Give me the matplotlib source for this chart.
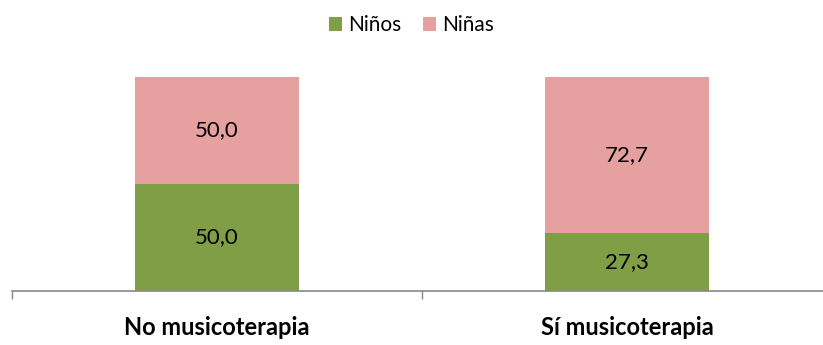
import matplotlib
matplotlib.use("Agg")
import matplotlib.pyplot as plt
import numpy as np

categories = ["No musicoterapia", "Sí musicoterapia"]
ninos = [50.0, 27.3]
ninas = [50.0, 72.7]
series_names = ["Niños", "Niñas"]
colors = ["#809E46", "#E6A09F"]

plt.rcParams["font.family"] = ["Lato", "DejaVu Sans"]

fig = plt.figure(figsize=(8.23, 3.45), dpi=100)
ax = fig.add_axes([12 / 823, 54 / 345, 820 / 823, 214 / 345])

x = np.arange(len(categories))
w = 0.4
b1 = ax.bar(x, ninos, w, color=colors[0], label=series_names[0], zorder=2)
b2 = ax.bar(x, ninas, w, bottom=ninos, color=colors[1], label=series_names[1], zorder=2)

for bars, vals, bottoms in ((b1, ninos, [0, 0]), (b2, ninas, ninos)):
    for rect, v, b in zip(bars, vals, bottoms):
        ax.text(rect.get_x() + rect.get_width() / 2, b + v / 2,
                f"{v:.1f}".replace(".", ","), ha="center", va="center",
                fontsize=16, color="black", zorder=3)

ax.set_xlim(-0.5, 1.5)
ax.set_ylim(0, 100)
ax.set_yticks([])
ax.set_xticks([-0.5, 0.5, 1.5], minor=False)
ax.set_xticklabels([])
ax.tick_params(axis="x", length=6, color="#888888", width=1, direction="out")
ax.set_xticks(x, minor=True)
ax.set_xticklabels(categories, minor=True, fontsize=17, fontweight="bold")
ax.tick_params(axis="x", which="minor", length=0, pad=18)

for s in ["top", "right", "left"]:
    ax.spines[s].set_visible(False)
ax.spines["bottom"].set_color("#888888")
ax.spines["bottom"].set_linewidth(1.2)

leg = fig.legend(handles=[b1, b2], labels=series_names, loc="center",
                 bbox_to_anchor=(0.5, 1 - 25 / 345), ncol=2, frameon=False,
                 fontsize=15, handlelength=0.65, handleheight=0.65,
                 handletextpad=0.3, columnspacing=1.0)

fig.savefig("out.png", dpi=100)
